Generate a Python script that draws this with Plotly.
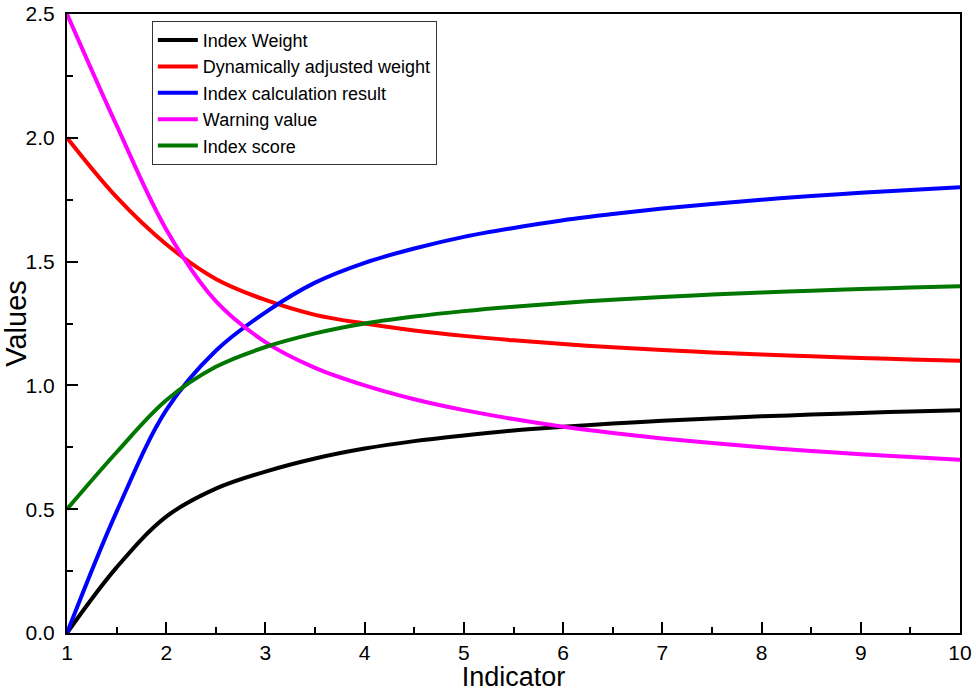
import plotly.graph_objects as go

# values at these indicator positions
indicator = [1, 1.5, 2, 2.5, 3, 3.5, 4, 4.5, 5, 5.5, 6, 6.5, 7, 7.5, 8, 8.5, 9, 9.5, 10]

index_weight = [0.0, 0.265, 0.47, 0.583, 0.652, 0.705, 0.745, 0.775, 0.798, 0.818, 0.833,
                0.846, 0.857, 0.866, 0.875, 0.882, 0.889, 0.895, 0.9]
dyn_weight = [2.0, 1.76, 1.57, 1.43, 1.345, 1.285, 1.25, 1.222, 1.2, 1.182, 1.167,
              1.154, 1.143, 1.133, 1.125, 1.118, 1.111, 1.105, 1.1]
calc_result = [0.0, 0.49, 0.9, 1.14, 1.295, 1.415, 1.495, 1.553, 1.6, 1.636, 1.667,
               1.692, 1.714, 1.733, 1.75, 1.765, 1.778, 1.789, 1.8]
warning_value = [2.5, 2.05, 1.63, 1.34, 1.175, 1.071, 1.0, 0.944, 0.9, 0.864, 0.833,
                 0.808, 0.786, 0.767, 0.75, 0.735, 0.722, 0.711, 0.7]
index_score = [0.5, 0.73, 0.94, 1.075, 1.155, 1.21, 1.25, 1.278, 1.3, 1.318, 1.333,
               1.346, 1.357, 1.367, 1.375, 1.382, 1.389, 1.395, 1.4]

series = [
    ("Index Weight", index_weight, "#000000"),
    ("Dynamically adjusted weight", dyn_weight, "#ff0000"),
    ("Index calculation result", calc_result, "#0000ff"),
    ("Warning value", warning_value, "#ff00ff"),
    ("Index score", index_score, "#007700"),
]

FONT = "Liberation Sans, Arial"

fig = go.Figure()
for name, vals, col in series:
    fig.add_trace(go.Scatter(x=indicator, y=vals, mode="lines", name=name,
                             line=dict(color=col, width=4, shape="spline", smoothing=1.0)))

axis_common = dict(
    showline=True, linecolor="black", linewidth=2, mirror=True,
    ticks="inside", ticklen=11, tickwidth=2, tickcolor="black",
    showgrid=False, zeroline=False, automargin=False,
    tickfont=dict(family=FONT, size=21, color="black"),
)

fig.update_xaxes(range=[1, 10], dtick=1, tick0=1, ticklabelstandoff=0,
                 minor=dict(ticks="inside", ticklen=6, tickwidth=2, dtick=0.5, tick0=1, tickcolor="black"),
                 title=dict(text="Indicator", font=dict(family=FONT, size=27, color="black"), standoff=4),
                 **axis_common)
fig.update_yaxes(range=[0, 2.5], dtick=0.5, tickformat=".1f", ticklabelstandoff=6,
                 minor=dict(ticks="inside", ticklen=6, tickwidth=2, dtick=0.25, tickcolor="black"),
                 title=dict(text="Values", font=dict(family=FONT, size=29, color="black"), standoff=0),
                 **axis_common)

fig.update_layout(
    width=976, height=692,
    margin=dict(l=67, r=16, t=14, b=59),
    plot_bgcolor="white", paper_bgcolor="white",
    showlegend=True,
    legend=dict(x=0.095, y=0.989, xanchor="left", yanchor="top",
                bgcolor="white", bordercolor="#333333", borderwidth=1,
                font=dict(family=FONT, size=18, color="black"),
                tracegroupgap=0, itemwidth=40),
)

# page body has an 8px default margin, drop it so the figure sits at the corner
fig.write_html("out.html", config={"displayModeBar": False},
               post_script="document.body.style.margin='0';")
